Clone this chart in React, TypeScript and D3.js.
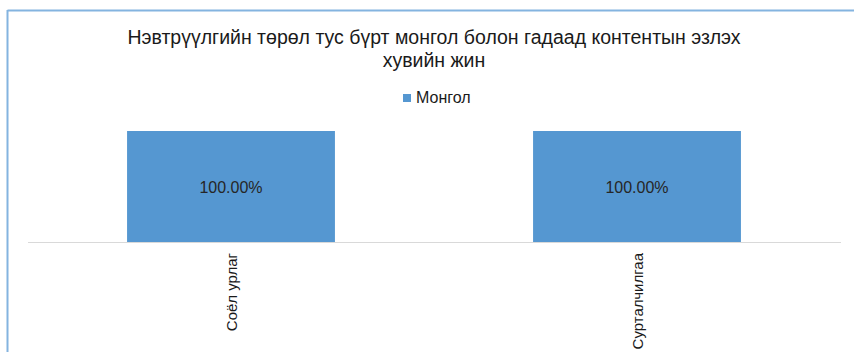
import React from "react";
import * as d3 from "d3";

const categories: string[] = ["Соёл урлаг", "Сурталчилгаа"];
const mongolValues: number[] = [100, 100];
const seriesName = "Монгол";
const titleLines: string[] = [
  "Нэвтрүүлгийн төрөл тус бүрт монгол болон гадаад контентын эзлэх",
  "хувийн жин",
];

const W = 854;
const H = 352;
const FONT = "'Liberation Sans', Arial, sans-serif";
const BAR = "#5597d1";

export default function App() {
  const x = d3
    .scaleBand<string>()
    .domain(categories)
    .range([28, 840])
    .paddingInner(0.488)
    .paddingOuter(0.244);
  const y = d3.scaleLinear().domain([0, 100]).range([242, 131]);
  const axisY = y(0);

  return (
    <svg
      width={W}
      height={H}
      style={{ position: "absolute", left: 0, top: 0, background: "#fff" }}
      fontFamily={FONT}
    >
      <rect x={0} y={0} width={W} height={H} fill="#fff" />
      {/* chart frame */}
      <line x1={7.5} y1={10.5} x2={W} y2={10.5} stroke="#84b4e0" strokeWidth={2} />
      <line x1={7.5} y1={10} x2={7.5} y2={H} stroke="#84b4e0" strokeWidth={2} />

      {/* title */}
      {titleLines.map((t, i) => (
        <text
          key={i}
          x={434}
          y={44 + i * 23}
          textAnchor="middle"
          fontSize={19.5}
          fill="#1a1a1a"
        >
          {t}
        </text>
      ))}

      {/* legend */}
      <rect x={403} y={94} width={8} height={8} fill={BAR} />
      <text x={416} y={103} fontSize={16} fill="#1a1a1a">
        {seriesName}
      </text>

      {/* bars */}
      {categories.map((c, i) => {
        const bx = x(c)!;
        const bw = x.bandwidth();
        const top = y(mongolValues[i]);
        return (
          <g key={c}>
            <rect x={bx} y={top} width={bw} height={axisY - top} fill={BAR} />
            <text
              x={bx + bw / 2}
              y={(top + axisY) / 2 + 6.5}
              textAnchor="middle"
              fontSize={16}
              fill="#262626"
            >
              {mongolValues[i].toFixed(2) + "%"}
            </text>
          </g>
        );
      })}

      {/* axis line */}
      <line x1={28} y1={axisY + 0.5} x2={841} y2={axisY + 0.5} stroke="#d9d9d9" strokeWidth={1} />

      {/* category labels */}
      {categories.map((c) => {
        const cx = x(c)! + x.bandwidth() / 2;
        return (
          <text
            key={c}
            transform={`translate(${cx + 6},${axisY + 11}) rotate(-90)`}
            textAnchor="end"
            fontSize={15}
            fill="#1a1a1a"
          >
            {c}
          </text>
        );
      })}
    </svg>
  );
}
